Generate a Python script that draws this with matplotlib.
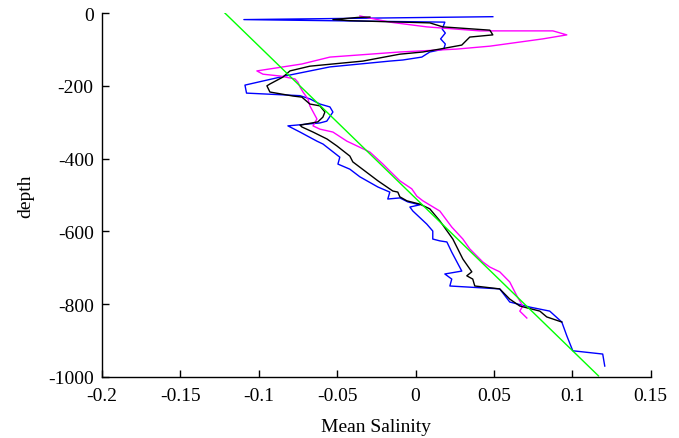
import numpy as np
import matplotlib
matplotlib.use('Agg')
import matplotlib.pyplot as plt

plt.rcParams['font.family'] = ['Liberation Serif', 'DejaVu Serif']
plt.rcParams['axes.unicode_minus'] = False

# blue profile
blue_x = [0.0493, -0.1095, 0.0187, 0.017, 0.019, 0.016, 0.019, 0.018, 0.0091, 0.004,
          -0.0081, -0.0164, -0.0546, -0.0833, -0.1088, -0.1078, -0.0737, -0.0673, -0.061,
          -0.0546, -0.0527, -0.0566, -0.061, -0.0814, -0.0737, -0.0629, -0.059, -0.0483,
          -0.0495, -0.0419, -0.0355, -0.024, -0.0164, -0.0177, -0.01, -0.0049, 0.0027,
          -0.0036, -0.0017, 0.0072, 0.011, 0.011, 0.0155, 0.02, 0.0231, 0.0295, 0.0187,
          0.0231, 0.0219, 0.0537, 0.0601, 0.0729, 0.0856, 0.0933, 0.0965, 0.1003, 0.1194,
          0.1207]
blue_d = [-10, -18, -25, -44, -55, -71, -85, -99, -107, -121,
          -129, -132, -148, -173, -198, -220, -227, -236, -250,
          -258, -272, -297, -302, -310, -327, -352, -360, -396,
          -415, -429, -450, -478, -492, -511, -508, -519, -527,
          -533, -544, -580, -599, -621, -626, -629, -657, -709, -717,
          -731, -750, -758, -794, -808, -819, -849, -887, -928, -937,
          -970]

# black (mean) profile
black_x = [-0.0291, -0.0368, -0.0527, -0.0419, 0.0091, 0.0174, 0.0474, 0.0493, 0.0346,
           0.0295, 0.0155, 0.0047, -0.01, -0.0336, -0.0674, -0.0801, -0.0846, -0.0929,
           -0.0948, -0.0929, -0.0782, -0.0725, -0.0674, -0.061, -0.0578, -0.0591, -0.0623,
           -0.0737, -0.0725, -0.0654, -0.0565, -0.0502, -0.0419, -0.04, -0.0323, -0.024,
           -0.0145, -0.0113, -0.01, -0.0055, 0.0027, 0.0091, 0.0155, 0.0238, 0.0302,
           0.0359, 0.0327, 0.0365, 0.0378, 0.0537, 0.0601, 0.0665, 0.0793, 0.0837, 0.0933]
black_d = [-11, -12, -18, -21, -27, -38, -47, -60, -66,
           -88, -99, -107, -113, -132, -146, -159, -176, -195,
           -200, -217, -228, -231, -250, -255, -272, -286, -299,
           -308, -313, -327, -346, -365, -393, -409, -434, -461,
           -489, -492, -505, -516, -525, -538, -571, -621, -676,
           -711, -722, -731, -750, -758, -786, -805, -819, -835, -849]

# magenta profile
mag_x = [-0.0355, -0.0164, 0.0072, 0.041, 0.0876, 0.0965, 0.0812, 0.0474, 0.0263, -0.01,
         -0.0546, -0.0725, -0.1012, -0.0973, -0.0865, -0.0769, -0.075, -0.0737, -0.0718,
         -0.0686, -0.0674, -0.0629, -0.0654, -0.061, -0.0527, -0.0438, -0.0374, -0.0291,
         -0.0208, -0.0164, -0.01, -0.0024, 0.0008, 0.0047, 0.0155, 0.0231, 0.0302, 0.0346,
         0.0429, 0.0474, 0.0537, 0.0601, 0.0646, 0.0684, 0.0665, 0.071]
mag_d = [-8, -25, -38, -49, -49, -60, -71, -91, -99, -107,
         -121, -140, -159, -168, -173, -181, -190, -203, -217,
         -236, -255, -291, -310, -319, -327, -352, -365, -382,
         -415, -434, -461, -483, -503, -516, -544, -588, -621, -648,
         -684, -698, -711, -739, -777, -805, -819, -838]

# linear fit
fit_x = [-0.1216, 0.1167]
fit_d = [0, -997]

fig = plt.figure(figsize=(6.79, 4.39), dpi=100)
ax = fig.add_axes([0.1502, 0.139, 0.8081, 0.829])

ax.plot(blue_x, blue_d, color='#0000ff', lw=1.0)
ax.plot(mag_x, mag_d, color='#ff00ff', lw=1.0)
ax.plot(black_x, black_d, color='black', lw=1.0)
ax.plot(fit_x, fit_d, color='#00ff00', lw=1.0)

ax.set_xlim(-0.2, 0.15)
ax.set_ylim(-1000, 0)
xt = np.arange(-0.2, 0.151, 0.05)
ax.set_xticks(xt)
ax.set_xticklabels(['-0.2', '-0.15', '-0.1', '-0.05', '0', '0.05', '0.1', '0.15'])
ax.set_yticks(np.arange(-1000, 1, 200))
ax.set_yticklabels(['-1000', '-800', '-600', '-400', '-200', '0'])

for s in ['top', 'right']:
    ax.spines[s].set_visible(False)
for s in ['left', 'bottom']:
    ax.spines[s].set_linewidth(1.0)
ax.tick_params(direction='in', length=5, width=1.0, labelsize=14)
ax.tick_params(axis='x', pad=7)
ax.tick_params(axis='y', pad=6)

ax.set_xlabel('Mean Salinity', fontsize=14, labelpad=10)
ax.set_ylabel('depth', fontsize=14, labelpad=10)

fig.savefig('out.png', dpi=100)
